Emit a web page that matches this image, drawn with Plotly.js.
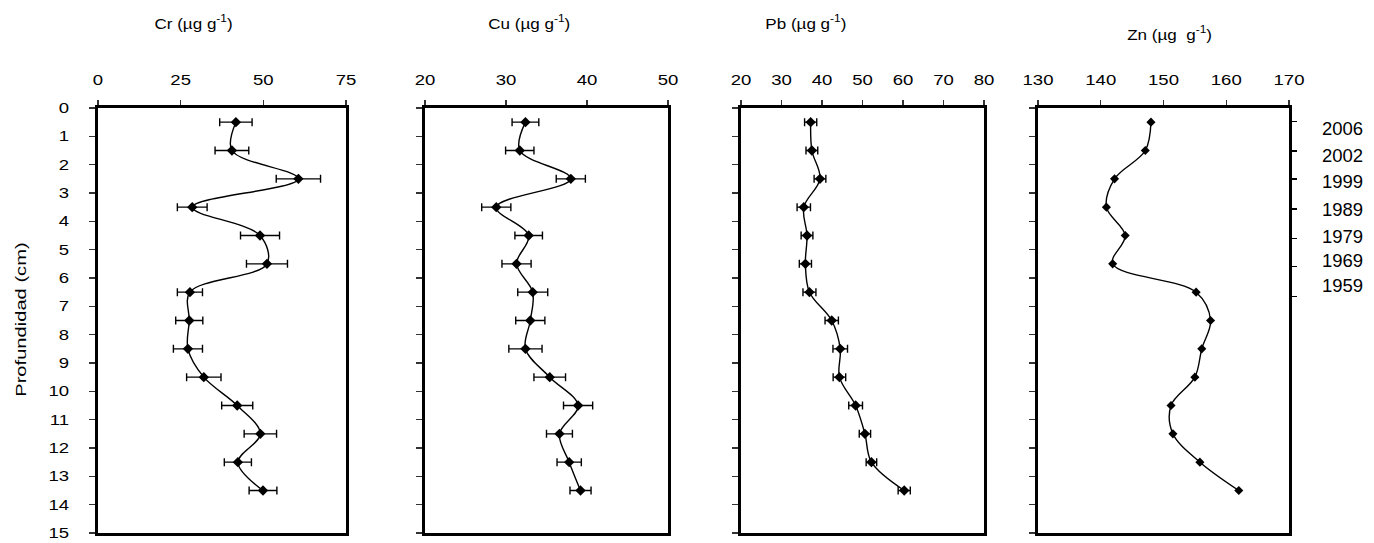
<!DOCTYPE html>
<html>
<head>
<meta charset="utf-8">
<script src="https://cdn.plot.ly/plotly-3.0.1.min.js"></script>
<style>
  html, body { margin: 0; padding: 0; background: #fff; }
  #chart { width: 1374px; height: 543px; }
</style>
</head>
<body>
<div id="chart"></div>
<script>
// Sediment core profiles: metal concentration versus depth
const depth = [0.5, 1.5, 2.5, 3.5, 4.5, 5.5, 6.5, 7.5, 8.5, 9.5, 10.5, 11.5, 12.5, 13.5];

const cr    = [41.7, 40.5, 60.6, 28.5, 49.0, 51.1, 27.8, 27.6, 27.2, 32.0, 42.1, 49.1, 42.3, 49.9];
const crErr = [4.9, 5.1, 6.7, 4.5, 5.9, 6.2, 3.8, 4.1, 4.4, 5.2, 4.7, 4.9, 4.1, 4.2];

const cu    = [32.4, 31.7, 38.0, 28.8, 32.8, 31.3, 33.3, 33.0, 32.4, 35.4, 38.9, 36.6, 37.8, 39.2];
const cuErr = [1.65, 1.75, 1.8, 1.8, 1.7, 1.8, 1.85, 1.8, 2.05, 1.95, 1.8, 1.6, 1.5, 1.3];

const pb    = [37.2, 37.5, 39.5, 35.5, 36.3, 35.9, 36.9, 42.4, 44.5, 44.3, 48.3, 50.6, 52.2, 60.3];
const pbErr = [1.5, 1.45, 1.45, 1.65, 1.45, 1.5, 1.6, 1.65, 1.8, 1.55, 1.7, 1.4, 1.3, 1.5];

const zn    = [148.0, 147.1, 142.2, 140.9, 143.9, 141.9, 155.2, 157.5, 156.1, 155.0, 151.2, 151.5, 155.8, 162.0];

// Dating scale on the right of the Zn panel
const yearLabels     = ['2006', '2002', '1999', '1989', '1979', '1969', '1959'];
const yearLabelDepth = [0.71, 1.67, 2.58, 3.57, 4.52, 5.40, 6.27];
const yearTickDepth  = [0.48, 1.51, 2.51, 3.57, 4.61, 5.60, 6.66];

const panelTitles = [
  'Cr (µg g<sup>-1</sup>)',
  'Cu (µg g<sup>-1</sup>)',
  'Pb (µg g<sup>-1</sup>)',
  'Zn (µg  g<sup>-1</sup>)'
];
const depthTitle = 'Profundidad (cm)';

const FONT = 'Liberation Sans, Arial, sans-serif';
const W = 1374, H = 543;
const px = v => v / W;
const yDom = [(H - 533) / H, (H - 108) / H];

function profile(x, err, xa, ya, msize) {
  const t = {
    x: x, y: depth, xaxis: xa, yaxis: ya,
    type: 'scatter', mode: 'lines+markers',
    line: { color: '#000', width: 1.4, shape: 'spline', smoothing: 1 },
    marker: { symbol: 'diamond', size: msize, color: '#000' },
    showlegend: false, hoverinfo: 'x+y'
  };
  if (err) {
    t.error_x = { type: 'data', array: err, symmetric: true, color: '#000', thickness: 1.4, width: 4 };
  }
  return t;
}

const traces = [
  profile(cr, crErr, 'x', 'y', 8),
  profile(cu, cuErr, 'x2', 'y2', 8),
  profile(pb, pbErr, 'x3', 'y3', 8),
  profile(zn, null, 'x4', 'y4', 7),
  { x: [], y: [], xaxis: 'x4', yaxis: 'y5', type: 'scatter', showlegend: false },
  { x: [], y: [], xaxis: 'x4', yaxis: 'y6', type: 'scatter', showlegend: false }
];

const tickFont = { family: FONT, size: 14.5, color: '#000' };

function xAxis(dom, range, dtick, anchor) {
  return {
    domain: [px(dom[0]), px(dom[1])], range: range, dtick: dtick, tick0: range[0],
    side: 'top', anchor: anchor,
    showline: true, linewidth: 3, linecolor: '#000', mirror: true,
    ticks: 'outside', ticklen: 5, tickwidth: 1.3, tickcolor: '#333',
    ticklabelstandoff: 9,
    showgrid: false, zeroline: false, fixedrange: true,
    tickfont: tickFont
  };
}

function yAxis(anchor, labels) {
  return {
    domain: yDom, range: [15, 0], dtick: 1, tick0: 0, anchor: anchor,
    showline: true, linewidth: 3, linecolor: '#000', mirror: true,
    ticks: 'outside', ticklen: 6, tickwidth: 1.3, tickcolor: '#333',
    showticklabels: labels, ticklabelstandoff: 17,
    showgrid: false, zeroline: false, fixedrange: true,
    tickfont: tickFont
  };
}

const layout = {
  width: W, height: H,
  margin: { l: 0, r: 0, t: 0, b: 0, pad: 0 },
  paper_bgcolor: '#fff', plot_bgcolor: '#fff',
  font: { family: FONT, color: '#000' },
  xaxis:  xAxis([98, 346], [0, 75], 25, 'y'),
  xaxis2: xAxis([425, 668], [20, 50], 10, 'y2'),
  xaxis3: xAxis([741, 984], [20, 80], 10, 'y3'),
  xaxis4: xAxis([1038, 1289], [130, 170], 10, 'y4'),
  yaxis:  yAxis('x', true),
  yaxis2: yAxis('x2', false),
  yaxis3: yAxis('x3', false),
  yaxis4: yAxis('x4', false),
  yaxis5: {
    domain: yDom, range: [15, 0], overlaying: 'y4', anchor: 'x4', side: 'right',
    tickmode: 'array', tickvals: yearTickDepth, showticklabels: false,
    ticks: 'outside', ticklen: 7, tickwidth: 1.5, tickcolor: '#000',
    showline: false, showgrid: false, zeroline: false, fixedrange: true
  },
  yaxis6: {
    domain: yDom, range: [15, 0], overlaying: 'y4', anchor: 'x4', side: 'right',
    tickmode: 'array', tickvals: yearLabelDepth, ticktext: yearLabels,
    ticks: '', ticklabelstandoff: 32,
    tickfont: { family: FONT, size: 18.5, color: '#000' },
    showline: false, showgrid: false, zeroline: false, fixedrange: true
  },
  annotations: [
    { text: panelTitles[0], x: px(193), y: 1 - 22 / H },
    { text: panelTitles[1], x: px(529), y: 1 - 22 / H },
    { text: panelTitles[2], x: px(806), y: 1 - 22 / H },
    { text: panelTitles[3], x: px(1169), y: 1 - 33 / H },
    { text: depthTitle, x: px(20), y: 1 - 320 / H, textangle: -90 }
  ].map(a => Object.assign({
    xref: 'paper', yref: 'paper', showarrow: false,
    xanchor: 'center', yanchor: 'middle',
    font: { family: FONT, size: 15.5, color: '#000' }
  }, a))
};

// Widen text glyphs horizontally (in their own reading direction) around their anchor point
function widen(nodes, k) {
  nodes.forEach(t => {
    const b = t.getBBox();
    const anchor = t.getAttribute('text-anchor') || 'start';
    const ax = anchor === 'end' ? b.x + b.width : anchor === 'middle' ? b.x + b.width / 2 : b.x;
    const prev = t.getAttribute('transform') || '';
    t.setAttribute('transform', `${prev} translate(${ax},0) scale(${k},1) translate(${-ax},0)`);
  });
}

Plotly.newPlot('chart', traces, layout, { displayModeBar: false, staticPlot: true }).then(gd => {
  widen(gd.querySelectorAll('.xtick text, .x2tick text, .x3tick text, .x4tick text, .ytick text'), 1.28);
  [0, 1, 2, 3].forEach(i =>
    widen(gd.querySelectorAll(`g.annotation[data-index="${i}"] text`), 1.1));
  widen(gd.querySelectorAll('g.annotation[data-index="4"] text'), 1.3);
});
</script>
</body>
</html>
